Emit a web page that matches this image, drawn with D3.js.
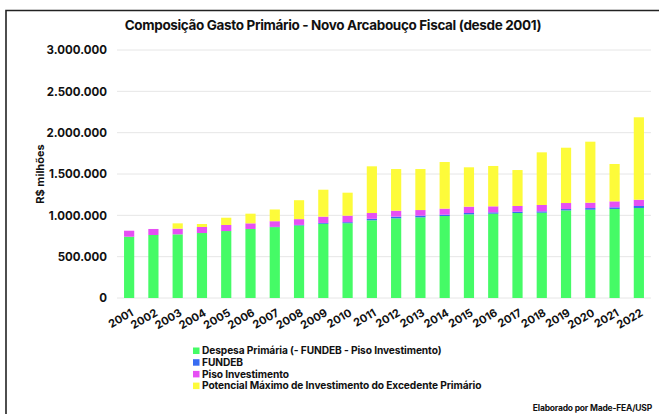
<!DOCTYPE html>
<html>
<head>
<meta charset="utf-8">
<script src="https://cdn.jsdelivr.net/npm/d3@7"></script>
<style>
  html, body { margin: 0; padding: 0; background: #fff; }
  svg { display: block; font-family: Inter, "Noto Sans", sans-serif; }
</style>
</head>
<body>
<svg id="chart" width="659" height="414"></svg>
<script>
// Anos e componentes do gasto primário (R$ milhões)
const years = ["2001","2002","2003","2004","2005","2006","2007","2008","2009","2010","2011",
               "2012","2013","2014","2015","2016","2017","2018","2019","2020","2021","2022"];
const despesa = [741, 762, 770, 786, 810, 835, 857, 878, 898, 905, 940,
                 964, 976, 992, 1012, 1020, 1028, 1032, 1060, 1068, 1077, 1089].map(v => v * 1000);
const fundeb  = [0, 0, 0, 0, 0, 0, 3, 6, 10, 12, 18,
                 20, 20, 16, 16, 16, 16, 16, 16, 20, 20, 24].map(v => v * 1000);
const piso    = [73, 73, 69, 73, 73, 68, 69, 70, 76, 79, 70,
                 72, 68, 73, 77, 73, 69, 77, 73, 65, 72, 76].map(v => v * 1000);
const potencial = [0, 0, 64, 36, 88, 117, 142, 229, 326, 278, 565,
                   504, 496, 564, 476, 488, 435, 637, 669, 738, 452, 997].map(v => v * 1000);
const yTicks = [0, 500000, 1000000, 1500000, 2000000, 2500000, 3000000];

const seriesNames = [
  "Despesa Primária (- FUNDEB - Piso Investimento)",
  "FUNDEB",
  "Piso Investimento",
  "Potencial Máximo de Investimento do Excedente Primário"
];
const seriesKeys = ["despesa", "fundeb", "piso", "potencial"];
const colors = ["#45fb66", "#386cf2", "#e64ff4", "#fdfb3a"];

const rows = years.map((y, i) => ({
  year: y, despesa: despesa[i], fundeb: fundeb[i], piso: piso[i], potencial: potencial[i]
}));

const svg = d3.select("#chart");

// Moldura
svg.append("path")
  .attr("d", "M6,414 L6,10.5 L659,10.5")
  .attr("fill", "none").attr("stroke", "#222").attr("stroke-width", 1.6);

const x = d3.scaleBand().domain(years).range([117, 651]).paddingInner(0.58).paddingOuter(0.29);
const y = d3.scaleLinear().domain([0, 3000000]).range([298, 50]);

const fmt = v => d3.format(",")(v).replace(/,/g, ".");

// Grade
svg.append("g").selectAll("line").data(yTicks).join("line")
  .attr("x1", 117).attr("x2", 651)
  .attr("y1", d => y(d)).attr("y2", d => y(d))
  .attr("stroke", "#e6e6e6").attr("stroke-width", 1);

// Eixo Y
const yAxis = svg.append("g").attr("transform", "translate(112,0)")
  .call(d3.axisLeft(y).tickValues(yTicks).tickFormat(fmt).tickSize(0).tickPadding(5));
yAxis.select(".domain").remove();
yAxis.selectAll("text")
  .attr("font-family", "Inter, sans-serif").attr("font-size", 11.5)
  .attr("font-weight", 700).attr("fill", "#111");

// Barras empilhadas
const stack = d3.stack().keys(seriesKeys)(rows);
svg.append("g").selectAll("g").data(stack).join("g")
  .attr("fill", (d, i) => colors[i])
  .selectAll("rect").data(d => d).join("rect")
  .attr("x", d => x(d.data.year))
  .attr("width", x.bandwidth())
  .attr("y", d => y(d[1]))
  .attr("height", d => Math.max(0, y(d[0]) - y(d[1])));

// Eixo X
const xAxis = svg.append("g").attr("transform", "translate(0,298)")
  .call(d3.axisBottom(x).tickSize(0).tickPadding(0));
xAxis.select(".domain").remove();
xAxis.selectAll("text")
  .attr("font-family", "Inter, sans-serif").attr("font-size", 11)
  .attr("font-weight", 700).attr("fill", "#111")
  .attr("text-anchor", "end")
  .attr("dy", 0)
  .attr("transform", "translate(5,17) rotate(-30)");

// Título
svg.append("text")
  .attr("x", 333).attr("y", 30)
  .attr("text-anchor", "middle")
  .attr("font-family", "Inter, sans-serif").attr("font-size", 13.5)
  .attr("font-weight", 700).attr("fill", "#111")
  .attr("letter-spacing", -0.35)
  .text("Composição Gasto Primário  - Novo Arcabouço Fiscal (desde 2001)");

// Rótulo do eixo Y
svg.append("text")
  .attr("transform", "translate(44,174) rotate(-90)")
  .attr("text-anchor", "middle")
  .attr("font-family", "Inter, sans-serif").attr("font-size", 11)
  .attr("font-weight", 700).attr("fill", "#111")
  .text("R$ milhões");

// Legenda
const legend = svg.append("g").attr("transform", "translate(193,345.5)");
const item = legend.selectAll("g").data(seriesNames).join("g")
  .attr("transform", (d, i) => `translate(0,${i * 11.7})`);
item.append("rect").attr("width", 6.5).attr("height", 6.5).attr("y", 2)
  .attr("fill", (d, i) => colors[i]);
item.append("text").attr("x", 9).attr("y", 8.7)
  .attr("font-family", "Inter, sans-serif").attr("font-size", 10.2)
  .attr("font-weight", 700).attr("fill", "#111")
  .attr("letter-spacing", -0.1)
  .text(d => d);

// Fonte
svg.append("text")
  .attr("x", 652).attr("y", 411)
  .attr("text-anchor", "end")
  .attr("font-family", "Inter, sans-serif").attr("font-size", 8.5)
  .attr("font-weight", 700).attr("fill", "#111")
  .attr("letter-spacing", -0.2)
  .text("Elaborado por Made-FEA/USP");
</script>
</body>
</html>
